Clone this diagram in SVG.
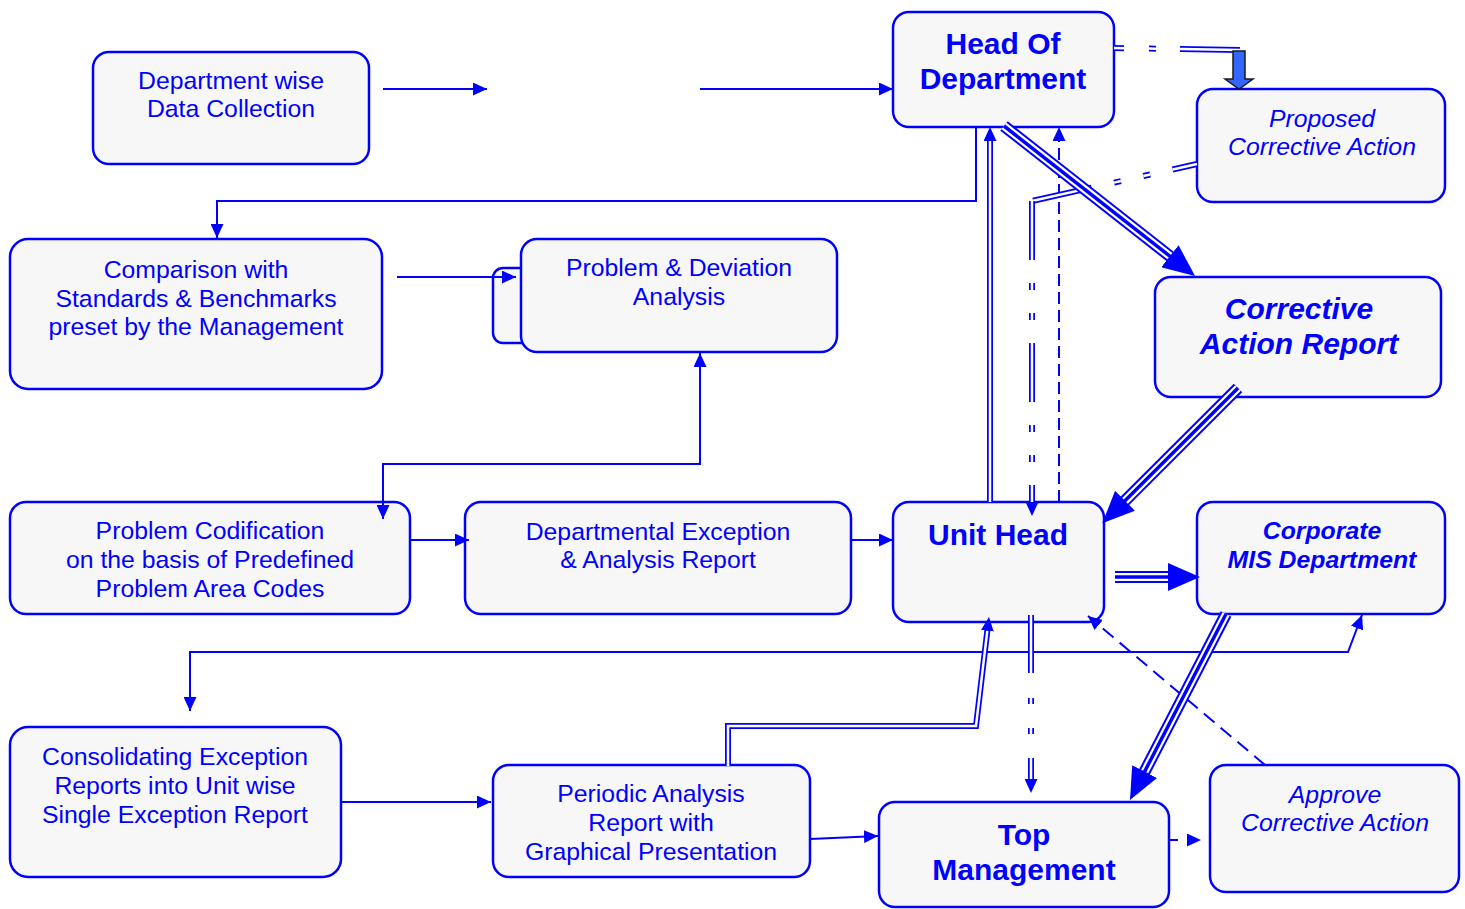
<svg xmlns="http://www.w3.org/2000/svg" width="1465" height="909" viewBox="0 0 1465 909">
<defs>
<style>
.box{fill:#f7f7f7;stroke:#0000ff;stroke-width:2.5}
.t{font-family:"Liberation Sans",Arial,sans-serif;font-size:24.8px;fill:#0000ff;text-anchor:middle}
.b{font-weight:bold;font-size:30px}
.i{font-style:italic}
.bi{font-style:italic;font-weight:bold}
.ln{fill:none;stroke:#0000ff;stroke-width:2}
.d1{fill:none;stroke:#0000ff;stroke-width:6}
.d2{fill:none;stroke:#ffffff;stroke-width:2.5}
.t1{fill:none;stroke:#0000ff;stroke-width:12}
.t2{fill:none;stroke:#ffffff;stroke-width:8}
.t3{fill:none;stroke:#0000ff;stroke-width:3.5}
.ds{stroke-dasharray:12 6}
</style>
<marker id="ah" markerUnits="userSpaceOnUse" markerWidth="14" markerHeight="13" refX="14" refY="6.5" orient="auto-start-reverse"><path d="M0,0 L14,6.5 L0,13 z" fill="#0000ff"/></marker>
<marker id="ahd" markerUnits="userSpaceOnUse" markerWidth="14" markerHeight="13" refX="4" refY="6.5" orient="auto"><path d="M0,0 L14,6.5 L0,13 z" fill="#0000ff"/></marker>
<marker id="big" markerUnits="userSpaceOnUse" markerWidth="32" markerHeight="28" refX="6" refY="14" orient="auto"><path d="M0,0 L32,14 L0,28 z" fill="#0000ff"/></marker>
</defs>
<rect width="1465" height="909" fill="#ffffff"/>

<g id="n-dept-data"><rect class="box" x="93" y="52" width="276" height="112" rx="16"/>
<text class="t" x="231" y="89">Department wise</text><text class="t" x="231" y="117">Data Collection</text></g>

<g id="n-hod"><rect class="box" x="893" y="12" width="221" height="115" rx="16"/>
<text class="t b" x="1003" y="54">Head Of</text><text class="t b" x="1003" y="89">Department</text></g>

<g id="n-proposed"><rect class="box" x="1197" y="89" width="248" height="113" rx="16"/>
<text class="t i" x="1322" y="127">Proposed</text><text class="t i" x="1322" y="155">Corrective Action</text></g>

<g id="n-comparison"><rect class="box" x="10" y="239" width="372" height="150" rx="18"/>
<text class="t" x="196" y="278">Comparison with</text><text class="t" x="196" y="307">Standards &amp; Benchmarks</text><text class="t" x="196" y="335">preset by the Management</text></g>

<g id="n-problem-deviation"><rect class="box" x="493" y="268" width="80" height="75" rx="10"/>
<rect class="box" x="521" y="239" width="316" height="113" rx="16"/>
<text class="t" x="679" y="276">Problem &amp; Deviation</text><text class="t" x="679" y="305">Analysis</text></g>

<g id="n-car"><rect class="box" x="1155" y="277" width="286" height="120" rx="16"/>
<text class="t bi b" x="1299" y="319">Corrective</text><text class="t bi b" x="1299" y="354">Action Report</text></g>

<g id="n-codification"><rect class="box" x="10" y="502" width="400" height="112" rx="16"/>
<text class="t" x="210" y="539">Problem Codification</text><text class="t" x="210" y="568">on the basis of Predefined</text><text class="t" x="210" y="597">Problem Area Codes</text></g>

<g id="n-dept-exception"><rect class="box" x="465" y="502" width="386" height="112" rx="16"/>
<text class="t" x="658" y="540">Departmental Exception</text><text class="t" x="658" y="568">&amp; Analysis Report</text></g>

<g id="n-unit-head"><rect class="box" x="893" y="502" width="211" height="120" rx="16"/>
<text class="t b" x="998" y="545">Unit Head</text></g>

<g id="n-mis"><rect class="box" x="1197" y="502" width="248" height="112" rx="16"/>
<text class="t bi" x="1322" y="539">Corporate</text><text class="t bi" x="1322" y="568">MIS Department</text></g>

<g id="n-consolidating"><rect class="box" x="10" y="727" width="331" height="150" rx="18"/>
<text class="t" x="175" y="765">Consolidating Exception</text><text class="t" x="175" y="794">Reports into Unit wise</text><text class="t" x="175" y="823">Single Exception Report</text></g>

<g id="n-periodic"><rect class="box" x="493" y="765" width="317" height="112" rx="16"/>
<text class="t" x="651" y="802">Periodic Analysis</text><text class="t" x="651" y="831">Report with</text><text class="t" x="651" y="860">Graphical Presentation</text></g>

<g id="n-top"><rect class="box" x="879" y="802" width="290" height="105" rx="16"/>
<text class="t b" x="1024" y="845">Top</text><text class="t b" x="1024" y="880">Management</text></g>

<g id="n-approve"><rect class="box" x="1210" y="765" width="249" height="127" rx="16"/>
<text class="t i" x="1335" y="803">Approve</text><text class="t i" x="1335" y="831">Corrective Action</text></g>

<g id="connectors">
<path class="ln" d="M383,89 L487,89" marker-end="url(#ah)"/>
<path class="ln" d="M700,89 L893,89" marker-end="url(#ah)"/>
<path class="ln" d="M976,127 L976,201 L217,201 L217,238" marker-end="url(#ah)"/>
<path class="ln" d="M397,277 L516,277" marker-end="url(#ah)"/>
<path class="ln" d="M700,353 L700,464 L383,464 L383,519" marker-start="url(#ah)" marker-end="url(#ah)"/>
<path class="ln" d="M410,540 L469,540" marker-end="url(#ah)"/>
<path class="ln" d="M851,540 L893,540" marker-end="url(#ah)"/>
<path class="ln" d="M341,802 L491,802" marker-end="url(#ah)"/>
<path class="ln" d="M810,839 L878,836" marker-end="url(#ah)"/>
<path class="ln" d="M1362,615 L1348,652 L190,652 L190,711" marker-start="url(#ah)" marker-end="url(#ah)"/>
<path class="ln ds" d="M1059,502 L1059,127" marker-end="url(#ah)"/>
<path class="ln" style="stroke-dasharray:14 8" d="M1265,765 L1088,616" marker-end="url(#ah)"/>
<path class="ln" style="stroke-dasharray:8 9" d="M1170,840 L1201,840" marker-end="url(#ah)"/>

<!-- double lines -->
<path class="d1" d="M990,502 L990,137" marker-end="url(#ahd)"/>
<path class="d2" d="M990,502 L990,141"/>
<path class="d1" d="M728,766 L728,726 L976,726 L987.8,626.9" marker-end="url(#ahd)"/>
<path class="d2" d="M728,766 L728,726 L976,726 L987.3,630.9"/>

<!-- double dashed lines -->
<path class="d1" style="stroke-dasharray:10 25 7 24 80" d="M1114,48 L1240,50"/>
<path class="d2" style="stroke-dasharray:10 25 7 24 80" d="M1114,48 L1240,50"/>
<path class="d1" style="stroke-dasharray:60 23 7 23 7 23;stroke-dashoffset:35" d="M1197,164 L1032,201"/>
<path class="d2" style="stroke-dasharray:60 23 7 23 7 23;stroke-dashoffset:35" d="M1197,164 L1032,201"/>
<path class="d1" style="stroke-dasharray:59 23 7 23 7 23" d="M1032,201 L1032,506" marker-end="url(#ahd)"/>
<path class="d2" style="stroke-dasharray:59 23 7 23 7 23" d="M1032,201 L1032,502"/>
<path class="d1" style="stroke-dasharray:58 25 6 24 6 24" d="M1031,615 L1031,783" marker-end="url(#ahd)"/>
<path class="d2" style="stroke-dasharray:58 25 6 24 6 24" d="M1031,615 L1031,779"/>

<!-- triple lines -->
<path class="t1" d="M1004,126 L1174.6,259.9" marker-end="url(#big)"/>
<path class="t2" d="M1004,126 L1169.9,256.2"/>
<path class="t3" d="M1004,126 L1174.6,259.9"/>
<path class="t1" d="M1238,388 L1120.7,505" marker-end="url(#big)"/>
<path class="t2" d="M1238,388 L1125,500.8"/>
<path class="t3" d="M1238,388 L1120.7,505"/>
<path class="t1" d="M1115,577 L1174,577" marker-end="url(#big)"/>
<path class="t2" d="M1115,577 L1168,577"/>
<path class="t3" d="M1115,577 L1174,577"/>
<path class="t1" d="M1226,614 L1141.9,776.9" marker-end="url(#big)"/>
<path class="t2" d="M1226,614 L1144.7,771.5"/>
<path class="t3" d="M1226,614 L1141.9,776.9"/>

<!-- block arrow -->
<polygon points="1233,51 1245,51 1245,79 1253,79 1239,89 1225,79 1233,79" fill="#3366ff" stroke="#1a1a1a" stroke-width="1.5"/>
</g>
</svg>
